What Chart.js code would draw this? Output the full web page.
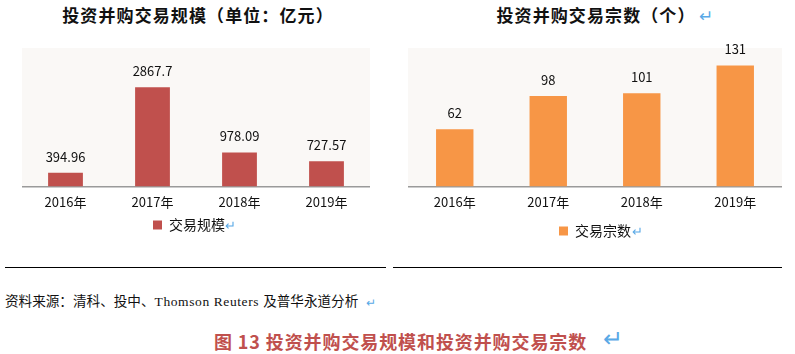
<!DOCTYPE html>
<html>
<head>
<meta charset="utf-8">
<script src="https://cdn.jsdelivr.net/npm/chart.js@4.4.1/dist/chart.umd.min.js"></script>
<style>
  html,body{margin:0;padding:0;background:#fff;}
  body{width:795px;height:354px;position:relative;overflow:hidden;font-family:'Noto Sans CJK SC','Noto Sans',sans-serif;}
  .abs{position:absolute;}
  .title{font-weight:bold;font-size:17px;color:#111;white-space:nowrap;text-align:center;line-height:20px;letter-spacing:1.1px;}
  .wrap{position:relative;display:inline-block;}
  .mk{position:absolute;left:100%;top:0;color:#5aa9e6;font-weight:normal;padding-left:3px;letter-spacing:0;}
  .rule{position:absolute;height:1px;background:#000;top:267px;}
  .src{left:5px;top:290px;font-size:13.6px;color:#111;white-space:nowrap;line-height:20px;}
  .lat{font-family:'Liberation Serif','DejaVu Serif',serif;font-size:13.5px;letter-spacing:0.6px;}
  .cap{left:3px;width:795px;top:330px;text-align:center;font-size:18px;font-weight:bold;color:#c0504d;line-height:22px;white-space:nowrap;letter-spacing:0.9px;}
</style>
</head>
<body>
<div class="abs title" style="left:5px;width:386px;top:5px;"><span class="wrap">投资并购交易规模（单位：亿元）</span></div>
<div class="abs title" style="left:399px;width:394px;top:5px;"><span class="wrap">投资并购交易宗数（个）<span class="mk">↵</span></span></div>

<div class="abs" style="left:22px;top:30px;width:348px;height:212px;"><canvas id="c1"></canvas></div>
<div class="abs" style="left:408px;top:30px;width:374px;height:218px;"><canvas id="c2"></canvas></div>

<div class="rule" style="left:5px;width:381px;"></div>
<div class="rule" style="left:393px;width:389px;"></div>

<div class="abs src"><span class="wrap">资料来源：清科、投中、<span class="lat">Thomson Reuters </span>及普华永道分析<span class="mk" style="padding-left:8px;font-size:12px;top:2px;">↵</span></span></div>
<div class="abs cap"><span class="wrap">图 13 投资并购交易规模和投资并购交易宗数<span class="mk" style="padding-left:16px;font-size:24px;top:-4px;">↵</span></span></div>

<script>
const categories = ['2016年', '2017年', '2018年', '2019年'];
const scaleValues = [394.96, 2867.7, 978.09, 727.57];
const scaleLabels = ['394.96', '2867.7', '978.09', '727.57'];
const countValues = [62, 98, 101, 131];
const countLabels = ['62', '98', '101', '131'];

const FONT = "'Noto Sans CJK SC','Noto Sans',sans-serif";
Chart.defaults.font.family = FONT;
Chart.defaults.color = '#111';

const bgPlugin = {
  id: 'plotBg',
  beforeDraw(chart) {
    const a = chart.chartArea, ctx = chart.ctx;
    ctx.save();
    ctx.fillStyle = '#faf8f6';
    ctx.fillRect(a.left, a.top, a.right - a.left, a.bottom - a.top);
    ctx.restore();
  }
};
const labelPlugin = {
  id: 'valLabels',
  afterDatasetsDraw(chart) {
    const ctx = chart.ctx;
    const labels = chart.options.plugins.valLabels.labels;
    const meta = chart.getDatasetMeta(0);
    ctx.save();
    ctx.font = "13px " + FONT;
    ctx.textAlign = 'center';
    ctx.textBaseline = 'middle';
    meta.data.forEach((el, i) => {
      ctx.fillStyle = '#111';
      ctx.fillText(labels[i], el.x, el.y - 16);
    });
    ctx.restore();
  },
  afterDraw(chart) {
    const lg = chart.legend;
    if (!lg || !lg.legendHitBoxes || !lg.legendHitBoxes.length) return;
    const hb = lg.legendHitBoxes[0];
    const off = chart.options.plugins.valLabels.markOffset;
    const ctx = chart.ctx;
    ctx.save();
    ctx.font = "13px " + FONT;
    ctx.fillStyle = '#5aa9e6';
    ctx.textAlign = 'left';
    ctx.textBaseline = 'middle';
    ctx.fillText('↵', hb.left + hb.width + off, hb.top + hb.height / 2);
    ctx.restore();
  }
};

function makeChart(id, label, values, labels, color, maxY, legendPad, pad, markOffset) {
  return new Chart(document.getElementById(id), {
    type: 'bar',
    data: {
      labels: categories,
      datasets: [{ label: label, data: values, backgroundColor: color, categoryPercentage: 1, barPercentage: 0.4 }]
    },
    options: {
      responsive: true,
      maintainAspectRatio: false,
      animation: false,
      layout: { padding: { top: 18, left: 0, right: 0, bottom: 0 } },
      scales: {
        x: {
          grid: { display: false, drawTicks: false },
          border: { display: true, color: '#9a9a9a', width: 1.5 },
          ticks: { font: { size: 13 }, color: '#111', padding: 8 }
        },
        y: { display: false, min: 0, max: maxY }
      },
      plugins: {
        legend: {
          position: 'bottom',
          labels: {
            boxWidth: 9, boxHeight: 9, font: { size: 14 }, color: '#111', padding: legendPad,
            generateLabels(chart) {
              const items = Chart.defaults.plugins.legend.labels.generateLabels(chart);
              items.forEach(it => { it.text = it.text + pad; it.lineWidth = 0; });
              return items;
            }
          }
        },
        tooltip: { enabled: false },
        valLabels: { labels: labels, markOffset: markOffset }
      }
    },
    plugins: [bgPlugin, labelPlugin]
  });
}

makeChart('c1', '交易规模', scaleValues, scaleLabels, '#c0504d', 4000, 0, '\u2002\u2002', -14);
makeChart('c2', '交易宗数', countValues, countLabels, '#f79646', 150, 6, '', 1);
</script>
</body>
</html>
